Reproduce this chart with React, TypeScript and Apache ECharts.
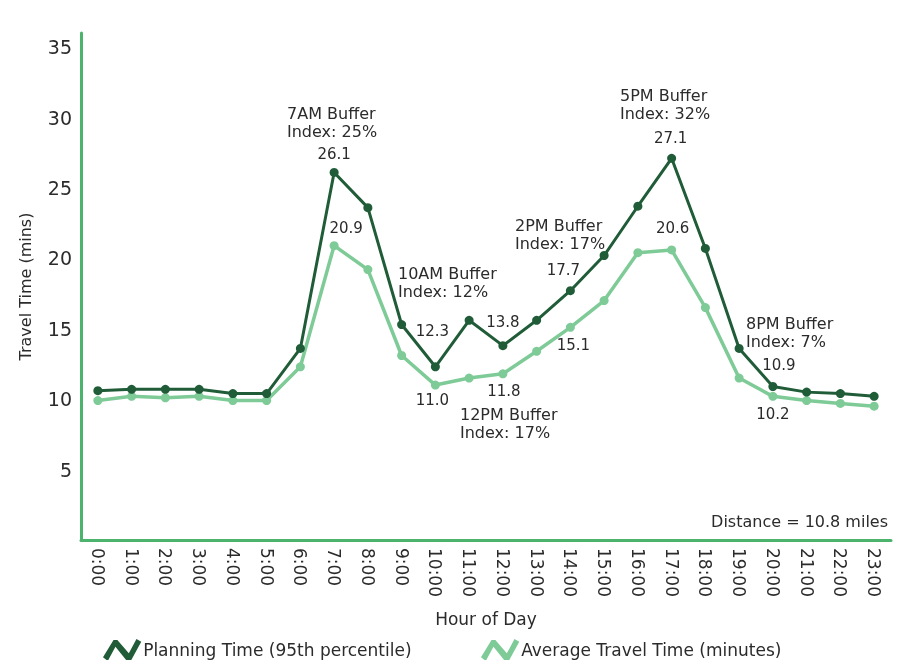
import React, { useEffect, useRef } from 'react';
import * as echarts from 'echarts';

const hours = ['0:00', '1:00', '2:00', '3:00', '4:00', '5:00', '6:00', '7:00', '8:00', '9:00', '10:00', '11:00',
  '12:00', '13:00', '14:00', '15:00', '16:00', '17:00', '18:00', '19:00', '20:00', '21:00', '22:00', '23:00'];

const planningTime = [10.6, 10.7, 10.7, 10.7, 10.4, 10.4, 13.6, 26.1, 23.6, 15.3, 12.3, 15.6,
  13.8, 15.6, 17.7, 20.2, 23.7, 27.1, 20.7, 13.6, 10.9, 10.5, 10.4, 10.2];

const averageTime = [9.9, 10.2, 10.1, 10.2, 9.9, 9.9, 12.3, 20.9, 19.2, 13.1, 11.0, 11.5,
  11.8, 13.4, 15.1, 17.0, 20.4, 20.6, 16.5, 11.5, 10.2, 9.9, 9.7, 9.5];

const yTickValues = [5, 10, 15, 20, 25, 30, 35];

const seriesNames = ['Planning Time (95th percentile)', 'Average Travel Time (minutes)'];

const bufferNotes = [
  '7AM Buffer\nIndex: 25%',
  '10AM Buffer\nIndex: 12%',
  '12PM Buffer\nIndex: 17%',
  '2PM Buffer\nIndex: 17%',
  '5PM Buffer\nIndex: 32%',
  '8PM Buffer\nIndex: 7%',
];
const distanceNote = 'Distance = 10.8 miles';

// label placement (style only)
const planningLabelPlacement: Record<number, { position: string; offset: number[] }> = {
  7: { position: 'top', offset: [0, -1] },
  10: { position: 'top', offset: [-3, -19] },
  12: { position: 'top', offset: [0, -7] },
  14: { position: 'top', offset: [-7, -4] },
  17: { position: 'top', offset: [-1, -3] },
  20: { position: 'top', offset: [6, -4] },
};
const averageLabelPlacement: Record<number, { position: string; offset: number[] }> = {
  7: { position: 'top', offset: [12, -1] },
  10: { position: 'bottom', offset: [-3, -2] },
  12: { position: 'bottom', offset: [1, 0] },
  14: { position: 'bottom', offset: [3, 1] },
  17: { position: 'top', offset: [1, -5] },
  20: { position: 'bottom', offset: [0, 1] },
};
const notePositions = [
  [287, 104], [398, 264], [460, 405], [515, 216], [620, 86], [746, 314],
];
const legendLefts = [98, 476];

const FONT = 'DejaVu Sans';
const DARK = '#1f5c37';
const LIGHT = '#7ecb97';
const AXIS = '#4cb36d';
const TEXT = '#2b2b2b';

const legendIcon = 'path://M0,19 L11,1 L15,1 L27,15 L35,0 L40,3 L29,23 L25,23 L13,8 L5,23 Z';

function buildData(values: number[], placement: Record<number, { position: string; offset: number[] }>) {
  return values.map((v, i) => {
    const p = placement[i];
    if (!p) return v;
    return {
      value: v,
      label: {
        show: true,
        position: p.position,
        offset: p.offset,
        formatter: (d: any) => Number(d.value).toFixed(1),
        fontFamily: FONT,
        fontSize: 15,
        color: TEXT,
      },
    };
  });
}

export default function App() {
  const ref = useRef<HTMLDivElement>(null);
  useEffect(() => {
    if (!ref.current) return;
    const chart = echarts.init(ref.current, null, { renderer: 'svg' });
    chart.setOption({
      animation: false,
      textStyle: { fontFamily: FONT },
      grid: { left: 81, right: 16, top: 33, bottom: 120, containLabel: false },
      legend: seriesNames.map((n, i) => ({
        data: [{ name: n, icon: legendIcon, itemStyle: { color: i === 0 ? DARK : LIGHT } }],
        left: legendLefts[i],
        top: 634,
        itemWidth: 40,
        itemHeight: 22,
        selectedMode: false,
        textStyle: { fontFamily: FONT, fontSize: 17, color: TEXT, padding: [0, 0, 0, -4] },
      })),
      xAxis: {
        type: 'category',
        data: hours,
        boundaryGap: true,
        name: 'Hour of Day',
        nameLocation: 'middle',
        nameGap: 70,
        nameTextStyle: { fontFamily: FONT, fontSize: 17, color: TEXT },
        axisLine: { show: true, lineStyle: { color: AXIS, width: 3 } },
        axisTick: { show: false },
        axisLabel: { rotate: -90, margin: 8, fontFamily: FONT, fontSize: 17, color: TEXT, interval: 0 },
        splitLine: { show: false },
      },
      yAxis: {
        type: 'value',
        min: 0,
        max: 36,
        interval: 5,
        name: 'Travel Time (mins)',
        nameLocation: 'middle',
        nameGap: 48,
        nameTextStyle: { fontFamily: FONT, fontSize: 16, color: TEXT },
        axisLine: { show: true, lineStyle: { color: AXIS, width: 3 } },
        axisTick: { show: false },
        axisLabel: {
          margin: 9,
          fontFamily: FONT,
          fontSize: 19,
          color: TEXT,
          formatter: (v: number) => (yTickValues.includes(v) ? String(v) : ''),
        },
        splitLine: { show: false },
      },
      series: [
        {
          name: seriesNames[0],
          type: 'line',
          data: buildData(planningTime, planningLabelPlacement),
          symbol: 'circle',
          symbolSize: 9,
          lineStyle: { color: DARK, width: 3 },
          itemStyle: { color: DARK },
          z: 3,
        },
        {
          name: seriesNames[1],
          type: 'line',
          data: buildData(averageTime, averageLabelPlacement),
          symbol: 'circle',
          symbolSize: 9,
          lineStyle: { color: LIGHT, width: 3.5 },
          itemStyle: { color: LIGHT },
          z: 2,
        },
      ],
      graphic: [
        ...bufferNotes.map((t, i) => ({
          type: 'text',
          x: notePositions[i][0],
          y: notePositions[i][1],
          style: {
            text: t,
            font: `16px "${FONT}"`,
            fill: TEXT,
            lineHeight: 18,
            align: 'left',
            verticalAlign: 'top',
          },
        })),
        {
          type: 'text',
          x: 888,
          y: 521,
          style: {
            text: distanceNote,
            font: `16px "${FONT}"`,
            fill: TEXT,
            align: 'right',
            verticalAlign: 'middle',
          },
        },
      ],
    });
    return () => chart.dispose();
  }, []);
  return <div ref={ref} style={{ position: 'fixed', left: 0, top: 0, width: 907, height: 660 }} />;
}
